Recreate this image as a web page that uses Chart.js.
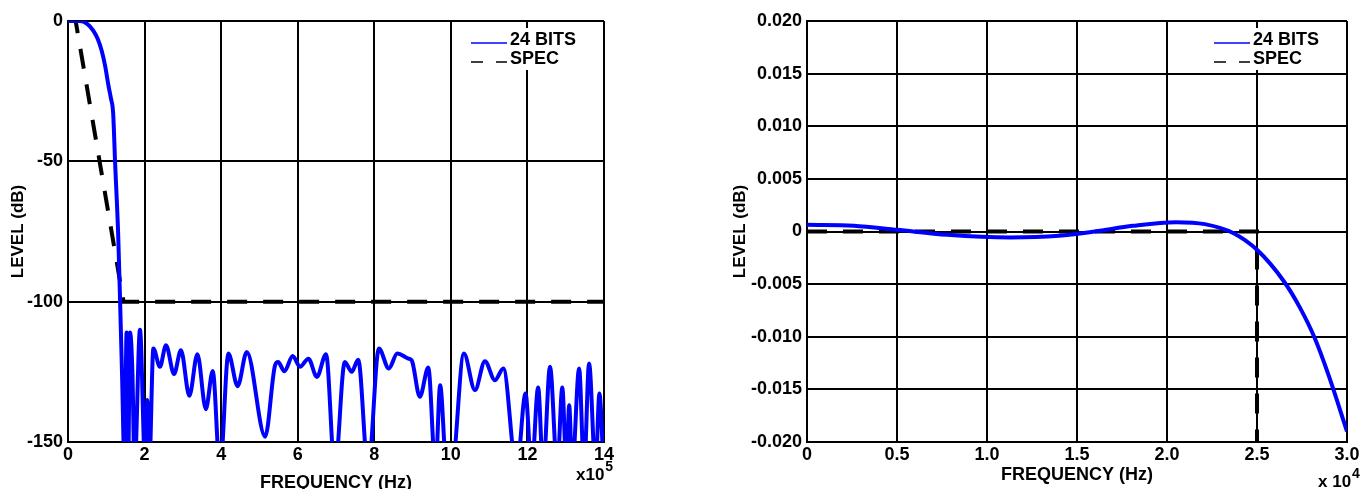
<!DOCTYPE html>
<html>
<head>
<meta charset="utf-8">
<title>Filter response</title>
<script src="https://cdn.jsdelivr.net/npm/chart.js@4.4.0/dist/chart.umd.min.js"></script>
<style>
html, body { margin: 0; padding: 0; background: #fff; overflow: hidden; }
.panel { position: absolute; top: 0; width: 682px; height: 489px; }
#leftPanel { left: 0; }
#rightPanel { left: 682px; }
</style>
</head>
<body>
<div class="panel" id="leftPanel"><canvas id="plotLeft" width="682" height="489"></canvas></div>
<div class="panel" id="rightPanel"><canvas id="plotRight" width="682" height="489"></canvas></div>
<script>
// left plot : whole band, frequency in units of 1e5 Hz
const leftFreq = [0, 0.31, 0.5, 0.66, 0.78, 0.88, 0.97, 1.05, 1.12, 1.18, 1.23, 1.31, 1.36, 1.41, 1.48,
    1.53, 1.57, 1.62, 1.68, 1.74, 1.88, 2.02, 2.07, 2.12, 2.23, 2.40, 2.56, 2.77, 2.95, 3.17, 3.38, 3.60, 3.78, 3.97,
    4.19, 4.43, 4.67, 5.15, 5.41, 5.49, 5.65, 5.87, 6.06, 6.28, 6.50, 6.74, 6.97, 7.23, 7.41, 7.58, 7.84,
    8.12, 8.38, 8.60, 8.89, 8.98, 9.19, 9.41, 9.60, 9.72, 9.89, 10.02, 10.34, 10.63, 10.89, 11.15, 11.37, 11.72,
    11.95, 12.11, 12.28, 12.41, 12.59, 12.78, 12.91, 13.02, 13.09, 13.17, 13.35, 13.48, 13.61, 13.78, 13.88, 13.99];
const leftLevel = [0, 0, -1, -3.4, -6.5, -10.6, -16, -22.5, -27.5, -33, -50.4, -75.8, -99.5, -125, -160,
    -111, -160, -111, -124, -160, -110, -160, -135, -160, -116.7, -123.2, -115.5, -125.8, -117.3, -133.5, -118.7, -138.3, -124.7, -160,
    -118.5, -130.1, -117.9, -148.1, -122.6, -121.5, -124.8, -119.4, -123.2, -120.3, -126.8, -118.7, -160, -121.5, -125, -120.7, -160,
    -116.7, -123.8, -118.5, -120.3, -121, -133.9, -123.5, -160, -129.8, -160, -160, -118.5, -131.5, -121.2, -128, -123.8, -160,
    -132.7, -160, -130.6, -160, -123.2, -160, -130.6, -160, -136.9, -160, -123.8, -160, -122, -160, -132.7, -160];
const leftSpecFreq = [0, 0.2, 1.45, 14];
const leftSpecLevel = [0, 0, -100, -100];

// right plot : passband detail, frequency in units of 1e4 Hz
const rightFreq = [0, 0.26, 0.5, 0.78, 1.13, 1.40, 1.60, 1.81, 2.05, 2.21, 2.37, 2.50, 2.65, 2.74, 2.82, 2.90, 3.0];
const rightLevel = [0.00064, 0.00055, 0.00016, -0.00032, -0.00057, -0.00041, 0, 0.00054, 0.00089, 0.0007, -0.00016,
    -0.00174, -0.00475, -0.00728, -0.0101, -0.01377, -0.019];
const rightSpecFreq = [0, 2.5, 2.5];
const rightSpecLevel = [0, 0, -0.02];

const seriesNames = ['24 BITS', 'SPEC'];

const leftXTicks = [0, 2, 4, 6, 8, 10, 12, 14];
const leftXLabels = ['0', '2', '4', '6', '8', '10', '12', '14'];
const leftYTicks = [-150, -100, -50, 0];
const leftYLabels = ['-150', '-100', '-50', '0'];
const rightXTicks = [0, 0.5, 1, 1.5, 2, 2.5, 3];
const rightXLabels = ['0', '0.5', '1.0', '1.5', '2.0', '2.5', '3.0'];
const rightYTicks = [-0.02, -0.015, -0.01, -0.005, 0, 0.005, 0.01, 0.015, 0.02];
const rightYLabels = ['-0.020', '-0.015', '-0.010', '-0.005', '0', '0.005', '0.010', '0.015', '0.020'];

const FONT = '"Liberation Sans", Arial, Helvetica, sans-serif';
const FSIZE = 18;

function toPoints(xs, ys) {
    return xs.map((x, i) => ({x: x, y: ys[i]}));
}

function labelFor(values, labels) {
    return function (v) {
        let i = values.findIndex(t => Math.abs(t - v) < 1e-9);
        return i < 0 ? '' : labels[i];
    };
}

// legend in the top right corner + the "x10^n" multiplier under the x axis
const decorPlugin = {
    id: 'decor',
    afterDatasetsDraw(chart, args, opts) {
        const ctx = chart.ctx;
        const a = chart.chartArea;
        ctx.save();
        ctx.fillStyle = '#fff';
        ctx.fillRect(a.right - 136, a.top + 7, 133, 42);
        ctx.font = 'bold ' + FSIZE + 'px ' + FONT;
        ctx.textBaseline = 'middle';
        ctx.textAlign = 'left';
        chart.data.datasets.forEach((ds, i) => {
            let y = a.top + 19 + i * 19;
            ctx.strokeStyle = ds.borderColor;
            ctx.lineWidth = 1.3;
            ctx.setLineDash(ds.borderDash ? [12, 13] : []);
            ctx.beginPath();
            ctx.moveTo(a.right - 133, y + 3);
            ctx.lineTo(a.right - 97, y + 3);
            ctx.stroke();
            ctx.fillStyle = '#000';
            ctx.fillText(ds.label, a.right - 94, y);
        });
        ctx.setLineDash([]);
        ctx.textBaseline = 'alphabetic';
        ctx.fillStyle = '#000';
        ctx.font = 'bold 17px ' + FONT;
        ctx.fillText(opts.base, opts.x, opts.y);
        let w = ctx.measureText(opts.base).width;
        ctx.font = 'bold 14px ' + FONT;
        ctx.fillText(opts.exp, opts.x + w + 1, opts.y - 9);
        ctx.restore();
    }
};

function buildChart(canvasId, cfg) {
    return new Chart(canvasId, {
        type: 'line',
        data: {
            datasets: [{
                label: seriesNames[0],
                data: toPoints(cfg.freq, cfg.level),
                borderColor: '#0000ff',
                borderWidth: 4,
                pointRadius: 0,
                cubicInterpolationMode: 'monotone',
                fill: false
            }, {
                label: seriesNames[1],
                data: toPoints(cfg.specFreq, cfg.specLevel),
                borderColor: '#000000',
                borderWidth: 4,
                borderDash: [20, 16],
                pointRadius: 0,
                tension: 0,
                fill: false
            }]
        },
        options: {
            responsive: false,
            animation: false,
            layout: {padding: {left: 0, top: 21, right: cfg.padRight, bottom: 0}},
            plugins: {
                legend: {display: false},
                tooltip: {enabled: false},
                decor: cfg.decor
            },
            scales: {
                x: {
                    type: 'linear',
                    min: cfg.xTicks[0],
                    max: cfg.xTicks[cfg.xTicks.length - 1],
                    afterBuildTicks: s => { s.ticks = cfg.xTicks.map(v => ({value: v})); },
                    afterFit: s => { s.height = 47; },
                    grid: {color: '#000', lineWidth: 2, drawTicks: false},
                    border: {color: '#000', width: 2},
                    ticks: {
                        color: '#000', padding: 2, maxRotation: 0, autoSkip: false,
                        font: {family: FONT, size: FSIZE, weight: 'bold'},
                        callback: labelFor(cfg.xTicks, cfg.xLabels)
                    },
                    title: {
                        display: true, text: 'FREQUENCY (Hz)', color: '#000',
                        font: {family: FONT, size: FSIZE, weight: 'bold'},
                        padding: {top: 0, bottom: cfg.xTitlePad}
                    }
                },
                y: {
                    type: 'linear',
                    min: cfg.yTicks[0],
                    max: cfg.yTicks[cfg.yTicks.length - 1],
                    afterBuildTicks: s => { s.ticks = cfg.yTicks.map(v => ({value: v})); },
                    afterFit: s => { s.width = cfg.yWidth; },
                    grid: {color: '#000', lineWidth: 2, drawTicks: false},
                    border: {color: '#000', width: 2},
                    ticks: {
                        color: '#000', padding: 5, autoSkip: false,
                        font: {family: FONT, size: FSIZE, weight: 'bold'},
                        callback: labelFor(cfg.yTicks, cfg.yLabels)
                    },
                    title: {
                        display: true, text: 'LEVEL (dB)', color: '#000',
                        font: {family: FONT, size: FSIZE - 1, weight: 'bold'},
                        padding: {top: cfg.yTitlePad, bottom: 0}
                    }
                }
            }
        },
        plugins: [decorPlugin]
    });
}

buildChart('plotLeft', {
    freq: leftFreq, level: leftLevel, specFreq: leftSpecFreq, specLevel: leftSpecLevel,
    xTicks: leftXTicks, xLabels: leftXLabels, yTicks: leftYTicks, yLabels: leftYLabels,
    padRight: 78, yWidth: 68, xTitlePad: -5, yTitlePad: 8,
    decor: {base: 'x10', exp: '5', x: 576, y: 480}
});

buildChart('plotRight', {
    freq: rightFreq, level: rightLevel, specFreq: rightSpecFreq, specLevel: rightSpecLevel,
    xTicks: rightXTicks, xLabels: rightXLabels, yTicks: rightYTicks, yLabels: rightYLabels,
    padRight: 17, yWidth: 125, xTitlePad: 3, yTitlePad: 48,
    decor: {base: 'x 10', exp: '4', x: 636, y: 487}
});
</script>
</body>
</html>
